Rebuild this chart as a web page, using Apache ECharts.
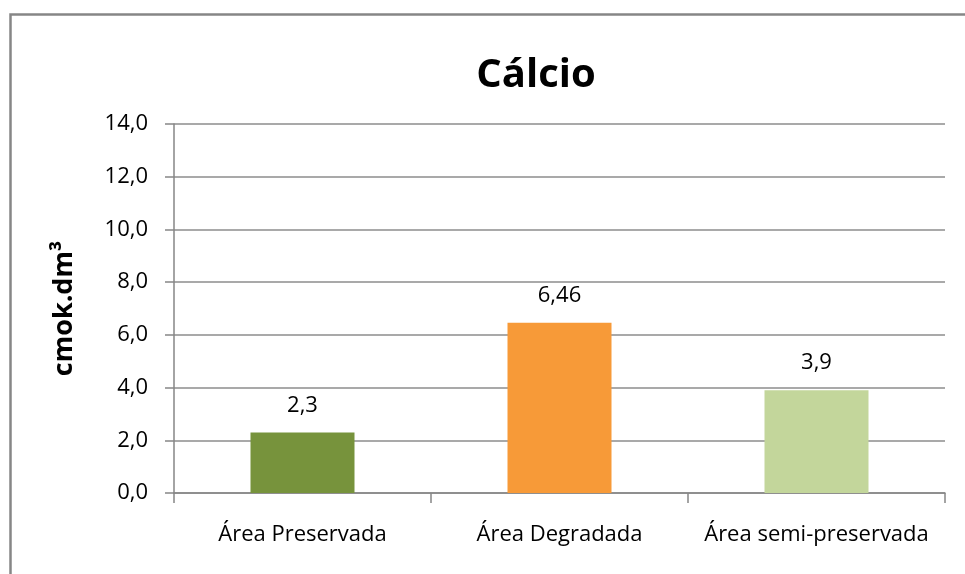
<!DOCTYPE html>
<html><head><meta charset="utf-8">
<script src="https://cdn.jsdelivr.net/npm/echarts@6/dist/echarts.min.js"></script>
<style>html,body{margin:0;padding:0;background:#fff}#c{width:965px;height:574px}</style>
</head><body><div id="c"></div>
<script>
const categories = ['Área Preservada', 'Área Degradada', 'Área semi-preservada'];
const values = [2.3, 6.46, 3.9];
const valueLabels = ['2,3', '6,46', '3,9'];
const barColors = ['#77933C', '#F79A38', '#C3D69B'];
const titleText = 'Cálcio';
const yAxisName = 'cmok.dm³';

const font = 'Open Sans';
const chart = echarts.init(document.getElementById('c'));
chart.setOption({
  animation: false,
  backgroundColor: '#fff',
  graphic: [{
    type: 'rect', left: 8, top: 12, shape: { width: 1000, height: 600 },
    style: { fill: 'none', stroke: '#868686', lineWidth: 2.5 }, z: -1
  }],
  title: {
    text: titleText, left: 531, top: 51, textAlign: 'center',
    textStyle: { fontFamily: font, fontWeight: 'bold', fontSize: 40, color: '#000' }
  },
  grid: { left: 174, right: 20, top: 124, bottom: 81, containLabel: false },
  xAxis: {
    type: 'category', data: categories,
    axisLine: { lineStyle: { color: '#868686', width: 1.5 } },
    axisTick: { show: true, length: 10, lineStyle: { color: '#868686', width: 1.5 } },
    axisLabel: { interval: 0, hideOverlap: false, fontFamily: font, fontSize: 22, color: '#000', margin: 31 }
  },
  yAxis: {
    type: 'value', min: 0, max: 14, interval: 2,
    name: yAxisName, nameLocation: 'middle', nameGap: 96,
    nameTextStyle: { fontFamily: font, fontWeight: 'bold', fontSize: 27, color: '#000' },
    axisLine: { show: true, lineStyle: { color: '#868686', width: 1.5 } },
    axisTick: { show: true, length: 9, inside: false, lineStyle: { color: '#868686', width: 1.5 } },
    splitLine: { lineStyle: { color: '#8c8c8c', width: 1.5 } },
    axisLabel: {
      fontFamily: font, fontSize: 22, color: '#000', margin: 26,
      formatter: v => v.toFixed(1).replace('.', ',')
    }
  },
  series: [{
    type: 'bar', barWidth: 104,
    data: values.map((v, i) => ({ value: v, itemStyle: { color: barColors[i] } })),
    label: {
      show: true, position: 'top', distance: 16,
      fontFamily: font, fontSize: 22, color: '#000',
      formatter: p => valueLabels[p.dataIndex]
    }
  }]
});
</script></body></html>
